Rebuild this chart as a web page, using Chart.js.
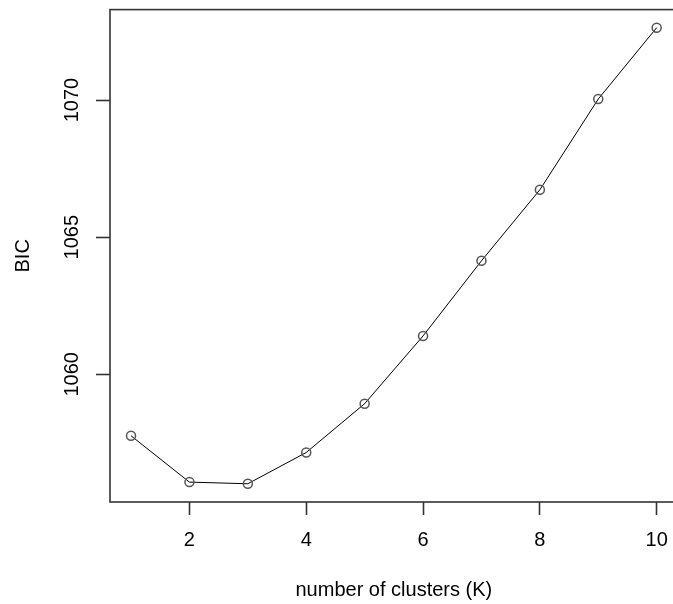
<!DOCTYPE html>
<html><head><meta charset="utf-8">
<script src="https://cdn.jsdelivr.net/npm/chart.js@4"></script>
<style>
html,body{margin:0;padding:0;overflow:hidden;background:#fff;width:673px;height:604px}
#wrap{width:700px;height:604px}
canvas{display:block}
</style></head>
<body><div id="wrap"><canvas id="c" width="700" height="604" style="width:700px;height:604px"></canvas></div>
<script>
const clusters = [1, 2, 3, 4, 5, 6, 7, 8, 9, 10];
const bic = [1057.76, 1056.07, 1056.01, 1057.15, 1058.93, 1061.40, 1064.14, 1066.73, 1070.04, 1072.64];
const xTickValues = [2, 4, 6, 8, 10];
const yTickValues = [1060, 1065, 1070];
const xTitle = 'number of clusters (K)';
const yTitle = 'BIC';

const FONT = "'Liberation Sans', Arial, sans-serif";
const AX = '#333';

const boxPlugin = {
  id: 'box',
  beforeDatasetsDraw(chart) {
    const {ctx, chartArea: a} = chart;
    ctx.save();
    ctx.strokeStyle = AX;
    ctx.lineWidth = 1.6;
    ctx.strokeRect(a.left, a.top, a.right - a.left, a.bottom - a.top);
    ctx.restore();
  }
};

new Chart(document.getElementById('c'), {
  type: 'scatter',
  data: {
    datasets: [{
      data: clusters.map((k, i) => ({x: k, y: bic[i]})),
      showLine: true,
      borderColor: '#000',
      borderWidth: 1,
      pointRadius: 4.5,
      pointHoverRadius: 4.5,
      pointBorderWidth: 1.5,
      pointBorderColor: '#555',
      pointBackgroundColor: 'rgba(0,0,0,0)',
      clip: false
    }]
  },
  options: {
    responsive: false,
    animation: false,
    devicePixelRatio: 1,
    layout: {padding: {left: 0, top: 9.6, right: 22.3, bottom: 0}},
    plugins: {legend: {display: false}, tooltip: {enabled: false}},
    scales: {
      x: {
        type: 'linear',
        min: 0.64, max: 10.36,
        afterBuildTicks: s => { s.ticks = xTickValues.map(v => ({value: v})); },
        afterFit: s => { s.height = 102; s.paddingLeft = 0; s.paddingRight = 0; },
        border: {display: false},
        grid: {display: true, drawOnChartArea: false, drawTicks: true, tickLength: 13, tickWidth: 1.6, tickColor: AX},
        ticks: {color: '#000', font: {family: FONT, size: 20}, padding: 13, maxRotation: 0, minRotation: 0, autoSkip: false, callback: v => String(v)},
        title: {display: true, text: xTitle, color: '#000', font: {family: FONT, size: 20}, padding: {top: 0, bottom: 2}}
      },
      y: {
        type: 'linear',
        min: 1055.345, max: 1073.3,
        afterBuildTicks: s => { s.ticks = yTickValues.map(v => ({value: v})); },
        afterFit: s => { s.width = 110; s.paddingTop = 0; s.paddingBottom = 0; },
        border: {display: false},
        grid: {display: true, drawOnChartArea: false, drawTicks: true, tickLength: 14, tickWidth: 1.6, tickColor: AX},
        ticks: {color: '#000', font: {family: FONT, size: 20}, padding: 1, minRotation: 90, maxRotation: 90, crossAlign: 'center', autoSkip: false, callback: v => String(v)},
        title: {display: true, text: yTitle, color: '#000', font: {family: FONT, size: 20}, padding: {top: 11, bottom: 0}}
      }
    }
  },
  plugins: [boxPlugin]
});
</script>
</body></html>
